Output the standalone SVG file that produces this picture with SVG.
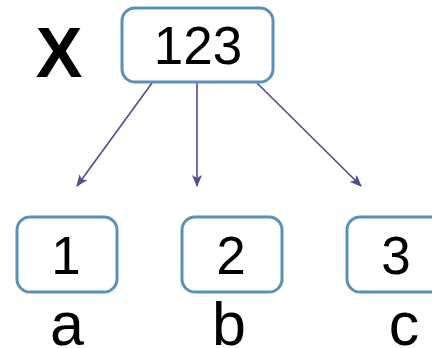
<svg xmlns="http://www.w3.org/2000/svg" width="432" height="348" viewBox="0 0 432 348">
<style>
.box{fill:#fff;stroke:#5b91b8;stroke-width:3}
.t{font-family:"Liberation Sans",Arial,sans-serif;fill:#000;text-anchor:middle}
.edge{stroke:#4d4d8f;stroke-width:1.6;fill:none;marker-end:url(#ah)}
</style>
<defs>
<marker id="ah" viewBox="0 0 12 10" refX="11" refY="5" markerWidth="12" markerHeight="10" markerUnits="userSpaceOnUse" orient="auto">
<path d="M0,0 L12,5 L0,10 L3,5 Z" fill="#4d4d8f"/>
</marker>
</defs>
<text class="t" x="59" y="77" font-size="70" font-weight="bold">X</text>
<g id="connectors">
<line class="edge" x1="152" y1="83" x2="77" y2="186"/>
<line class="edge" x1="197" y1="83" x2="197" y2="186"/>
<line class="edge" x1="257" y1="83" x2="361" y2="186"/>
</g>
<g id="n123">
<rect class="box" x="122" y="8" width="151" height="74" rx="13"/>
<text class="t" x="198" y="64" font-size="53">123</text>
</g>
<g id="n1">
<rect class="box" x="17" y="217" width="100" height="75" rx="13"/>
<text class="t" x="66" y="274" font-size="53">1</text>
</g>
<g id="n2">
<rect class="box" x="182" y="217" width="100" height="75" rx="13"/>
<text class="t" x="231" y="274" font-size="53">2</text>
</g>
<g id="n3">
<rect class="box" x="347" y="217" width="100" height="75" rx="13"/>
<text class="t" x="396" y="274" font-size="53">3</text>
</g>
<text class="t" x="67" y="345" font-size="61">a</text>
<text class="t" x="229" y="345" font-size="61">b</text>
<text class="t" x="404" y="345" font-size="61">c</text>
</svg>
